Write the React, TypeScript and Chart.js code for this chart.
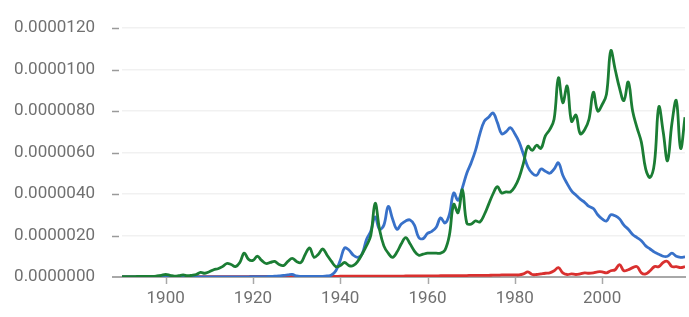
import React, { useEffect, useRef } from "react";
import { Chart, registerables } from "chart.js";

Chart.register(...registerables);

const startYear = 1890;
const endYear = 2019;
const years: number[] = [];
for (let y = startYear; y <= endYear; y++) years.push(y);

// values in units of 1e-6
const greenSeries = [
  0.02, 0.02, 0.02, 0.02, 0.03, 0.03, 0.03, 0.03, 0.05, 0.08,
  0.12, 0.08, 0.04, 0.06, 0.1, 0.06, 0.08, 0.12, 0.22, 0.18,
  0.25, 0.35, 0.4, 0.5, 0.65, 0.6, 0.5, 0.7, 1.15, 0.85,
  0.8, 1.0, 0.8, 0.65, 0.7, 0.75, 0.6, 0.55, 0.75, 0.9,
  0.75, 0.7, 1.1, 1.4, 0.95, 1.1, 1.35, 1.05, 0.75, 0.5,
  0.55, 0.7, 0.55, 0.55, 0.75, 1.1, 1.5, 2.0, 3.55, 2.3,
  1.5, 1.15, 0.95, 1.2, 1.6, 1.9, 1.6, 1.25, 1.05, 1.1,
  1.15, 1.15, 1.15, 1.15, 1.3, 2.0, 3.5, 3.1, 4.2, 2.6,
  2.55, 2.7, 2.65, 3.0, 3.5, 4.0, 4.35, 4.05, 4.1, 4.1,
  4.35, 4.8, 5.5, 6.3, 6.1, 6.35, 6.2, 6.8, 7.1, 7.6,
  9.6, 8.4, 9.2, 7.5, 7.8, 6.9, 7.1, 7.6, 8.9, 8.0,
  8.3, 8.8, 10.9, 10.0, 9.1, 8.5, 9.4, 8.0, 7.2, 6.5,
  5.2, 4.8, 5.5, 8.2, 7.0, 5.6, 7.4, 8.5, 6.2, 7.7,
];

const blueSeries = [
  0, 0, 0, 0, 0, 0, 0, 0, 0, 0,
  0, 0, 0, 0, 0, 0, 0, 0, 0, 0,
  0, 0, 0, 0, 0, 0, 0, 0, 0.01, 0.01,
  0.02, 0.02, 0.02, 0.02, 0.03, 0.04, 0.05, 0.08, 0.1, 0.12,
  0.05, 0.03, 0.03, 0.03, 0.03, 0.03, 0.03, 0.05, 0.1, 0.3,
  0.8, 1.4, 1.3, 1.05, 0.95, 1.1, 1.8, 2.2, 2.9, 2.3,
  2.5, 3.4, 2.8, 2.3, 2.55, 2.7, 2.75, 2.5, 1.9, 1.85,
  2.1, 2.2, 2.4, 2.85, 2.6, 3.0, 4.05, 3.7, 4.3, 5.0,
  5.5, 6.1, 6.9, 7.5, 7.7, 7.9, 7.45, 6.9, 7.0, 7.2,
  6.9, 6.5, 5.9, 5.3, 5.0, 4.9, 5.2, 5.1, 5.0, 5.2,
  5.5, 4.9, 4.5, 4.15, 3.95, 3.75, 3.6, 3.4, 3.3, 3.0,
  2.8, 2.7, 3.0, 2.95, 2.8, 2.5, 2.3, 2.05, 1.9, 1.75,
  1.5, 1.35, 1.2, 1.1, 1.0, 1.0, 1.15, 1.0, 0.95, 0.97,
];

const redSeries = [
  0.01, 0.01, 0.01, 0.01, 0.01, 0.01, 0.01, 0.01, 0.01, 0.01,
  0.02, 0.02, 0.02, 0.02, 0.02, 0.02, 0.02, 0.02, 0.02, 0.02,
  0.02, 0.02, 0.02, 0.02, 0.02, 0.02, 0.02, 0.02, 0.02, 0.02,
  0.03, 0.03, 0.03, 0.03, 0.03, 0.03, 0.03, 0.03, 0.03, 0.03,
  0.03, 0.03, 0.03, 0.03, 0.03, 0.03, 0.03, 0.03, 0.03, 0.03,
  0.04, 0.04, 0.04, 0.04, 0.04, 0.04, 0.04, 0.04, 0.04, 0.04,
  0.04, 0.04, 0.04, 0.04, 0.04, 0.05, 0.05, 0.05, 0.05, 0.05,
  0.05, 0.05, 0.05, 0.06, 0.06, 0.06, 0.06, 0.07, 0.07, 0.07,
  0.08, 0.08, 0.08, 0.08, 0.08, 0.09, 0.09, 0.1, 0.1, 0.1,
  0.1, 0.1, 0.15, 0.25, 0.12, 0.12, 0.15, 0.18, 0.2, 0.3,
  0.45, 0.2, 0.12, 0.15, 0.12, 0.15, 0.2, 0.18, 0.2, 0.25,
  0.25, 0.2, 0.3, 0.35, 0.6, 0.3, 0.35, 0.45, 0.5, 0.2,
  0.15, 0.3, 0.5, 0.5, 0.7, 0.75, 0.5, 0.5, 0.45, 0.5,
];

const xTickYears = [1900, 1920, 1940, 1960, 1980, 2000];
const yTickValues = [0, 2, 4, 6, 8, 10, 12];

const toPoints = (arr: number[]) => arr.map((v, i) => ({ x: years[i], y: v * 1e-6 }));

const tickMarksPlugin = {
  id: "tickMarks",
  afterDraw(chart: any) {
    const { ctx, chartArea, scales } = chart;
    const y = scales.y;
    ctx.save();
    ctx.strokeStyle = "#9a9a9a";
    ctx.lineWidth = 1.5;
    yTickValues.forEach((v) => {
      if (v === 0) return;
      const py = Math.round(y.getPixelForValue(v * 1e-6)) + 0.5;
      ctx.beginPath();
      ctx.moveTo(chartArea.left - 10, py);
      ctx.lineTo(chartArea.left - 3, py);
      ctx.stroke();
    });
    ctx.restore();
  },
  beforeDatasetsDraw(chart: any) {
    const { ctx, chartArea, scales } = chart;
    const py = scales.y.getPixelForValue(0);
    ctx.save();
    ctx.strokeStyle = "#a8a8a8";
    ctx.lineWidth = 2;
    ctx.beginPath();
    ctx.moveTo(chartArea.left - 10, py);
    ctx.lineTo(chartArea.right + 1, py);
    ctx.stroke();
    ctx.lineWidth = 1.5;
    xTickYears.forEach((yr) => {
      const px = Math.round(scales.x.getPixelForValue(yr)) + 0.5;
      ctx.beginPath();
      ctx.moveTo(px, py);
      ctx.lineTo(px, py + 7);
      ctx.stroke();
    });
    ctx.restore();
  },
};

export default function App() {
  const ref = useRef<HTMLCanvasElement | null>(null);
  useEffect(() => {
    if (!ref.current) return;
    const chart = new Chart(ref.current, {
      type: "line",
      data: {
        datasets: [
          {
            label: "green",
            data: toPoints(greenSeries),
            borderColor: "#1b7d34",
            borderWidth: 2.8,
            pointRadius: 0,
            tension: 0.4,
            fill: false,
          },
          {
            label: "blue",
            data: toPoints(blueSeries),
            borderColor: "#3871c9",
            borderWidth: 2.8,
            pointRadius: 0,
            tension: 0.4,
            fill: false,
          },
          {
            label: "red",
            data: toPoints(redSeries),
            borderColor: "#d9302f",
            borderWidth: 2.8,
            pointRadius: 0,
            tension: 0.4,
            fill: false,
          },
        ],
      },
      options: {
        animation: false,
        responsive: true,
        maintainAspectRatio: false,
        layout: { autoPadding: false, padding: { top: 28, right: 4, left: 0, bottom: 0 } },
        plugins: { legend: { display: false }, tooltip: { enabled: false } },
        scales: {
          x: {
            type: "linear",
            min: startYear,
            max: endYear,
            afterBuildTicks: (scale: any) => {
              scale.ticks = xTickYears.map((v) => ({ value: v }));
            },
            afterFit: (scale: any) => {
              scale.height = 40;
              scale.paddingLeft = 0;
              scale.paddingRight = 0;
            },
            grid: { display: false, drawTicks: false },
            border: { display: false },
            ticks: {
              color: "#707070",
              font: { family: "Roboto", size: 17 },
              padding: 12,
              maxRotation: 0,
              callback: (v: any) => String(v),
            },
          },
          y: {
            min: 0,
            max: 1.2e-5,
            afterBuildTicks: (scale: any) => {
              scale.ticks = yTickValues.map((v) => ({ value: v * 1e-6 }));
            },
            afterFit: (scale: any) => {
              scale.width = 122;
              scale.paddingTop = 0;
              scale.paddingBottom = 0;
            },
            grid: { color: "#f1f1f1", lineWidth: 1.5, drawTicks: false },
            border: { display: false },
            ticks: {
              color: "#707070",
              font: { family: "Roboto", size: 17 },
              padding: 27,
              callback: (v: any) => Number(v).toFixed(7),
            },
          },
        },
      },
      plugins: [tickMarksPlugin],
    });
    return () => chart.destroy();
  }, []);
  return (
    <div style={{ position: "fixed", left: 0, top: 0, width: 689, height: 317, background: "#fff" }}>
      <canvas ref={ref} />
    </div>
  );
}
